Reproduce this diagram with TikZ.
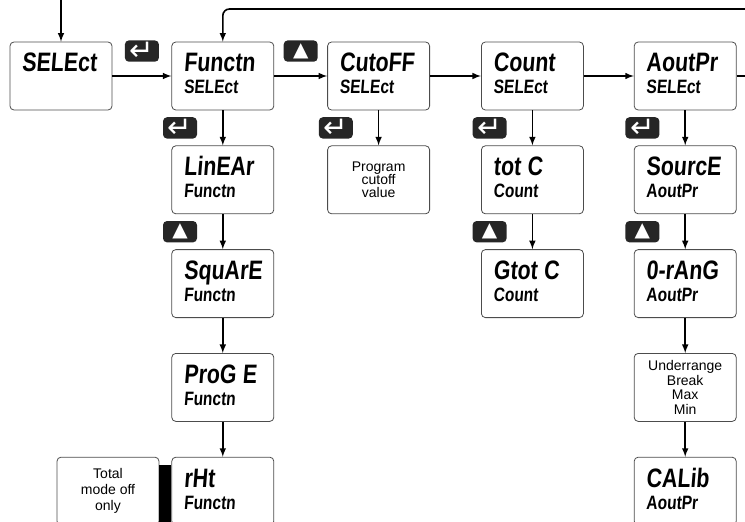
\documentclass[tikz,border=0pt]{standalone}
\usepackage{fontspec}
\setmainfont{Liberation Sans}
\newfontfamily\lcdfont{Liberation Sans}[FakeStretch=0.8,FakeSlant=0.08]
\newfontfamily\keyfont{DejaVu Sans}
\usetikzlibrary{positioning, calc, arrows}

% first (large) line of a display box
\newcommand{\mainline}[1]{{\fontsize{20}{20}\selectfont #1}}

\begin{document}
\begin{tikzpicture}[
  disp/.style = {draw=black!70, line width=0.6pt, rounded corners=3pt, text width=58.5pt, inner xsep=9pt, inner ysep=0pt, text height=22.5pt, text depth=28.5pt, align=left, font=\lcdfont\bfseries\fontsize{14.5}{16.5}\selectfont},
  note/.style = {draw=black!70, line width=0.6pt, rounded corners=3pt, minimum width=76.5pt, minimum height=51pt, inner sep=0pt, align=center},
  keybox/.style = {fill=black!85, rounded corners=3pt, minimum width=25.5pt, minimum height=16pt, inner sep=0pt, text=white, font=\keyfont\bfseries\fontsize{15}{15}\selectfont},
  enterkey/.style = {keybox, font=\keyfont\fontsize{22}{22}\selectfont},
  line width=1.2pt ]

\useasboundingbox (-45.75pt,-333.75pt) rectangle (513pt,57pt);
\clip (-45.75pt,-333.75pt) rectangle (513pt,57pt);

% top row
\node[disp] (sel) at (0,0) {\mainline{SELEct}};
\node[disp, right=44.25pt of sel] (fun) {\mainline{Functn}\\SELEct};
\node[disp, right=39.75pt of fun] (cut) {\mainline{CutoFF}\\SELEct};
\node[disp, right=38.25pt of cut] (cnt) {\mainline{Count}\\SELEct};
\node[disp, right=37.5pt of cnt] (aout) {\mainline{AoutPr}\\SELEct};

% Functn column
\node[disp, below=26.25pt of fun] (lin) {\mainline{LinEAr}\\Functn};
\node[disp, below=26.25pt of lin] (sqr) {\mainline{SquArE}\\Functn};
\node[disp, below=26.25pt of sqr] (prog) {\mainline{ProG E}\\Functn};
\node[disp, below=26.25pt of prog] (rht) {\mainline{rHt}\\Functn};
\node[note, left=9pt of rht, font=\fontsize{10.5}{12}\selectfont] (totl) {Total\\mode off\\only};
\fill ([yshift=-6pt]totl.north east) rectangle (rht.south west);

% CutoFF column
\node[note, below=26.25pt of cut, font=\fontsize{10.5}{10}\selectfont] (prg) {Program\\cutoff\\value};

% Count column
\node[disp, below=26.25pt of cnt] (tot) {\mainline{tot C}\\Count};
\node[disp, below=26.25pt of tot] (gtot) {\mainline{Gtot C}\\Count};

% AoutPr column
\node[disp, below=26.25pt of aout] (src) {\mainline{SourcE}\\AoutPr};
\node[disp, below=26.25pt of src] (orng) {\mainline{0-rAnG}\\AoutPr};
\node[note, below=26.25pt of orng, font=\fontsize{10.5}{11}\selectfont] (under) {Underrange\\Break\\Max\\Min};
\node[disp, below=26.25pt of under] (cal) {\mainline{CALib}\\AoutPr};

% keys
\node[enterkey, anchor=north] (k1) at ($(sel.north east)!.5!(fun.north west) + (0,1.5pt)$) {↵};
\node[keybox, anchor=north] (k2) at ($(fun.north east)!.5!(cut.north west) + (0,1.5pt)$) {▲};
\node[enterkey, anchor=east] (k3) at ($(fun.south)!.5!(lin.north) + (-18.75pt,0)$) {↵};
\node[keybox, anchor=east] (k4) at ($(lin.south)!.5!(sqr.north) + (-18.75pt,0)$) {▲};
\node[enterkey, anchor=east] (k5) at ($(cut.south)!.5!(prg.north) + (-18.75pt,0)$) {↵};
\node[enterkey, anchor=east] (k6) at ($(cnt.south)!.5!(tot.north) + (-18.75pt,0)$) {↵};
\node[keybox, anchor=east] (k7) at ($(tot.south)!.5!(gtot.north) + (-18.75pt,0)$) {▲};
\node[enterkey, anchor=east] (k8) at ($(aout.south)!.5!(src.north) + (-18.75pt,0)$) {↵};
\node[keybox, anchor=east] (k9) at ($(src.south)!.5!(orng.north) + (-18.75pt,0)$) {▲};

%--- entry -> SELEct
\coordinate (entry) at ([yshift=31.5pt]sel.north);
\draw[-latex] (entry) -- (sel);

%--- top row
\draw[-latex] (sel) -- (fun);
\draw[-latex] (fun) -- (cut);
\draw[-latex] (cut) -- (cnt);
\draw[-latex] (cnt) -- (aout);

%--- AoutPr -> back to Functn
\coordinate (edgeR) at ([xshift=12pt]aout.east);
\draw (aout) -- (edgeR);
\coordinate (loopR) at ([yshift=50.25pt]edgeR);
\draw[-latex, rounded corners=5pt] (loopR) -| (fun);

%--- columns
\draw[-latex] (fun) -- (lin);
\draw[-latex] (lin) -- (sqr);
\draw[-latex] (sqr) -- (prog);
\draw[-latex] (prog) -- (rht);
\draw[-latex] (cut) -- (prg);
\draw[-latex] (cnt) -- (tot);
\draw[-latex] (tot) -- (gtot);
\draw[-latex] (aout) -- (src);
\draw[-latex] (src) -- (orng);
\draw[-latex] (orng) -- (under);
\draw[-latex] (under) -- (cal);

\end{tikzpicture}
\end{document}
